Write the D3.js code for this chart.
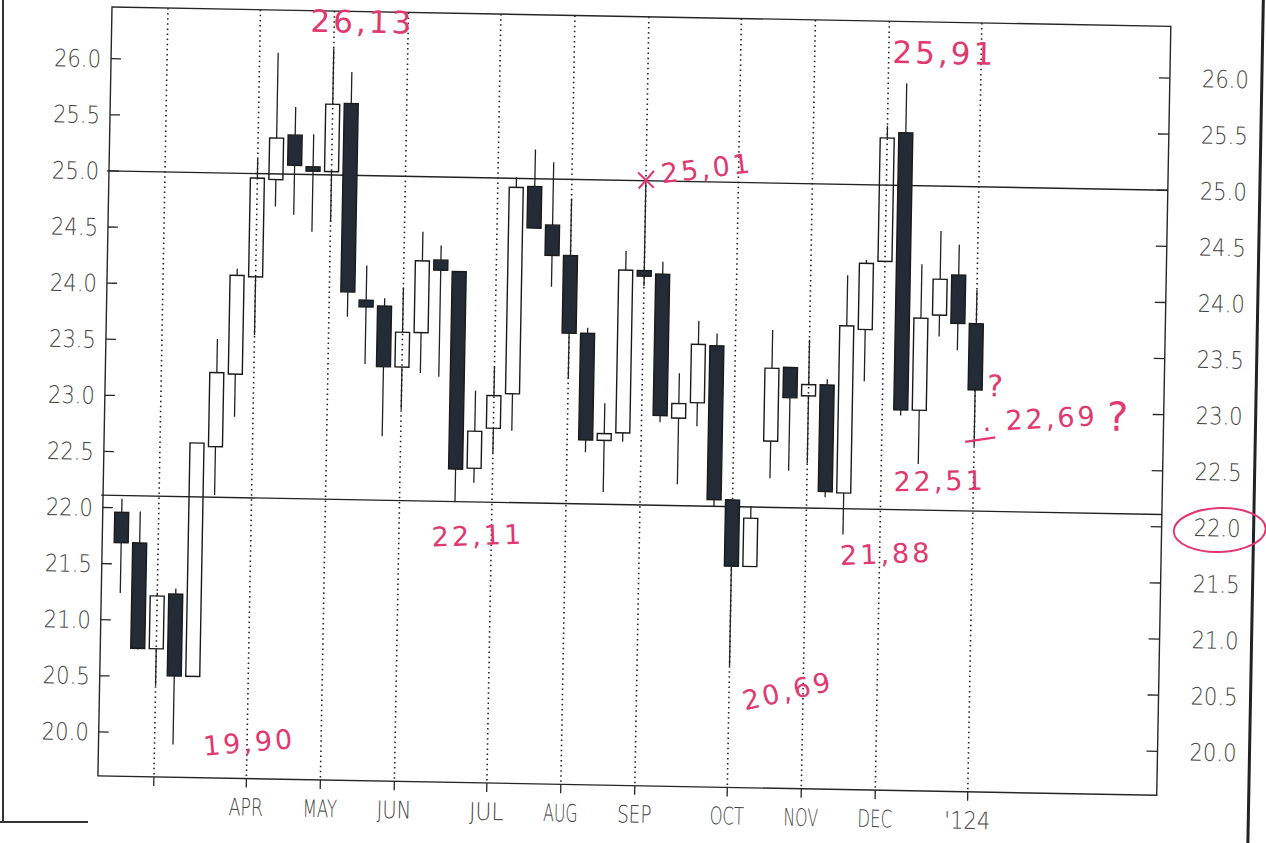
<!DOCTYPE html>
<html>
<head>
<meta charset="utf-8">
<script src="https://cdn.jsdelivr.net/npm/d3@7"></script>
<style>
  body { margin: 0; background: #fff; }
  svg { display: block; }
</style>
</head>
<body>
<svg id="chart"></svg>
<script>
// weekly OHLC
const open  = [21.96,21.69,20.75,21.24,20.51,22.56,23.21,24.08,24.95,25.35,25.07,25.03,25.64,23.89,23.84,23.30,23.61,24.26,24.16,22.41,22.77,23.08,24.93,24.59,24.32,23.63,22.68,22.75,24.20,24.17,22.89,23.03,23.54,22.17,21.58,22.70,23.36,23.11,23.21,22.25,23.71,24.32,25.47,23.00,23.85,24.21,23.78];
const high  = [22.08,21.97,21.25,21.29,22.59,23.52,24.15,25.13,26.08,25.60,25.36,26.13,25.92,24.20,23.91,24.01,24.51,24.39,24.16,23.10,23.32,25.01,25.26,25.15,24.83,23.68,23.01,24.37,25.01,24.28,23.29,23.76,23.65,22.17,22.12,23.69,23.36,23.61,23.26,24.19,24.33,25.53,25.91,24.30,24.60,24.48,24.08];
const low   = [21.24,20.74,20.42,19.90,20.51,22.13,22.83,23.56,24.71,24.64,24.49,24.58,23.74,23.32,22.68,22.92,23.25,23.22,22.11,22.28,22.55,22.75,24.56,24.04,23.22,22.57,22.22,22.67,24.06,22.85,22.30,22.82,22.11,20.69,21.58,22.37,22.44,22.51,22.21,21.88,23.25,24.32,22.95,22.52,23.66,23.54,22.69];
const close = [21.69,20.75,21.22,20.51,22.59,23.22,24.09,24.96,25.32,25.08,25.03,25.63,23.96,23.83,23.30,23.61,24.25,24.17,22.40,22.74,23.06,24.92,24.56,24.32,23.63,22.68,22.74,24.20,24.15,22.91,23.02,23.55,22.17,21.58,22.01,23.35,23.09,23.21,22.26,23.74,24.30,25.42,23.00,23.82,24.17,23.78,23.19];

// week index where each month starts
const monthWeek   = [2, 7, 11, 15, 20, 24, 28, 33, 37, 41, 46];
const monthLabels = ['', 'APR', 'MAY', 'JUN', 'JUL', 'AUG', 'SEP', 'OCT', 'NOV', 'DEC', "'124"];

const yTicks = d3.range(20, 26.001, 0.5);

// hand drawn support / resistance lines
const levels = [25.0, 22.11];

// handwritten notes: week index and price they point at
const notes = [
  {text: '26,13', week: 11, price: 26.13},
  {text: '25,91', week: 42, price: 25.91},
  {text: '25,01', week: 28, price: 25.01},
  {text: '22,11', week: 18, price: 22.11},
  {text: '19,90', week: 3,  price: 19.90},
  {text: '20,69', week: 33, price: 20.69},
  {text: '21,88', week: 39, price: 21.88},
  {text: '22,51', week: 43, price: 22.52},
  {text: '. 22,69', week: 46, price: 22.69}
];

class CandleChart {
  constructor(config) {
    this.config = {
      parent: config.parent,
      width: config.width || 1266,
      height: config.height || 843
    };
    this.init();
  }

  init() {
    let self = this;

    self.svg = d3.select(self.config.parent)
      .attr('width', self.config.width)
      .attr('height', self.config.height);

    // frame of the plot (the scan is turned about one degree)
    self.left = 112;
    self.right = 1171;
    self.top = 7;
    self.bottom = 776;

    // page edges on the scan
    self.svg.append('line')
      .attr('x1', 3).attr('x2', 3).attr('y1', 0).attr('y2', 822)
      .attr('stroke', '#333').attr('stroke-width', 2);
    self.svg.append('line')
      .attr('x1', 0).attr('x2', 88).attr('y1', 822).attr('y2', 822)
      .attr('stroke', '#333').attr('stroke-width', 2);

    self.chart = self.svg.append('g')
      .attr('transform', `rotate(1.05, ${self.left}, ${self.top})`);

    self.xscale = d3.scaleLinear()
      .domain([0, 46])
      .range([131, 982]);

    self.yscale = d3.scaleLinear()
      .domain([20, 26])
      .range([732, 58.7]);

    self.render();
  }

  render() {
    let self = this;
    const g = self.chart;
    const ink = '#262626';
    const labelFont = 'DejaVu Sans, Liberation Sans, sans-serif';

    g.append('line')
      .attr('x1', self.right + 92).attr('x2', self.right + 92)
      .attr('y1', -30).attr('y2', 880)
      .attr('stroke', '#222').attr('stroke-width', 3);

    // month grid lines
    g.selectAll('.grid')
      .data(monthWeek)
      .join('line')
      .attr('class', 'grid')
      .attr('x1', d => self.xscale(d)).attr('x2', d => self.xscale(d))
      .attr('y1', self.top).attr('y2', self.bottom)
      .attr('stroke', '#222')
      .attr('stroke-width', 1.6)
      .attr('stroke-dasharray', '1.5,3.6');

    g.selectAll('.mtick')
      .data(monthWeek)
      .join('line')
      .attr('class', 'mtick')
      .attr('x1', d => self.xscale(d)).attr('x2', d => self.xscale(d))
      .attr('y1', self.bottom).attr('y2', self.bottom + 9)
      .attr('stroke', ink).attr('stroke-width', 1.3);

    g.selectAll('.mlabel')
      .data(monthWeek)
      .join('text')
      .attr('class', 'mlabel')
      .attr('x', d => self.xscale(d))
      .attr('y', self.bottom + 37)
      .attr('text-anchor', 'middle')
      .attr('textLength', (d, i) => monthLabels[i].length * 11.5 || null)
      .attr('lengthAdjust', 'spacingAndGlyphs')
      .style('font-family', labelFont)
      .style('font-size', '24px')
      .style('font-weight', 200)
      .style('fill', '#444')
      .text((d, i) => monthLabels[i]);

    // frame
    g.append('rect')
      .attr('x', self.left).attr('y', self.top)
      .attr('width', self.right - self.left)
      .attr('height', self.bottom - self.top)
      .attr('fill', 'none')
      .attr('stroke', ink)
      .attr('stroke-width', 1.4);

    // y ticks both sides
    g.selectAll('.ltick')
      .data(yTicks)
      .join('line')
      .attr('class', 'ltick')
      .attr('x1', self.left).attr('x2', self.left + 10)
      .attr('y1', d => self.yscale(d)).attr('y2', d => self.yscale(d))
      .attr('stroke', ink).attr('stroke-width', 1.3);
    g.selectAll('.rtick')
      .data(yTicks)
      .join('line')
      .attr('class', 'rtick')
      .attr('x1', self.right - 11).attr('x2', self.right)
      .attr('y1', d => self.yscale(d)).attr('y2', d => self.yscale(d))
      .attr('stroke', ink).attr('stroke-width', 1.3);

    const fmt = d3.format('.1f');
    g.selectAll('.llabel')
      .data(yTicks)
      .join('text')
      .attr('class', 'llabel')
      .attr('x', self.left - 10)
      .attr('y', d => self.yscale(d))
      .attr('dy', '0.36em')
      .attr('text-anchor', 'end')
      .attr('textLength', 47)
      .attr('lengthAdjust', 'spacingAndGlyphs')
      .style('font-family', labelFont)
      .style('font-size', '24px')
      .style('font-weight', 200)
      .style('fill', '#444')
      .text(d => fmt(d));
    g.selectAll('.rlabel')
      .data(yTicks)
      .join('text')
      .attr('class', 'rlabel')
      .attr('x', self.right + 32)
      .attr('y', d => self.yscale(d))
      .attr('dy', '0.36em')
      .attr('textLength', 47)
      .attr('lengthAdjust', 'spacingAndGlyphs')
      .style('font-family', labelFont)
      .style('font-size', '24px')
      .style('font-weight', 200)
      .style('fill', '#444')
      .text(d => fmt(d));

    // ruled lines
    g.selectAll('.level')
      .data(levels)
      .join('line')
      .attr('class', 'level')
      .attr('x1', self.left - 2).attr('x2', self.right)
      .attr('y1', d => self.yscale(d)).attr('y2', d => self.yscale(d))
      .attr('stroke', '#222').attr('stroke-width', 1.4);

    // candles
    const weeks = d3.range(open.length);
    const bw = 14;

    g.selectAll('.wick-hi')
      .data(weeks)
      .join('line')
      .attr('class', 'wick-hi')
      .attr('x1', i => self.xscale(i)).attr('x2', i => self.xscale(i))
      .attr('y1', i => self.yscale(high[i]))
      .attr('y2', i => self.yscale(Math.max(open[i], close[i])))
      .attr('stroke', '#222').attr('stroke-width', 1.3);
    g.selectAll('.wick-lo')
      .data(weeks)
      .join('line')
      .attr('class', 'wick-lo')
      .attr('x1', i => self.xscale(i)).attr('x2', i => self.xscale(i))
      .attr('y1', i => self.yscale(Math.min(open[i], close[i])))
      .attr('y2', i => self.yscale(low[i]))
      .attr('stroke', '#222').attr('stroke-width', 1.3);

    g.selectAll('.body')
      .data(weeks)
      .join('rect')
      .attr('class', 'body')
      .attr('x', i => self.xscale(i) - bw / 2)
      .attr('width', bw)
      .attr('y', i => self.yscale(Math.max(open[i], close[i])))
      .attr('height', i => Math.max(4, Math.abs(self.yscale(open[i]) - self.yscale(close[i]))))
      .attr('fill', i => close[i] < open[i] ? '#222b36' : 'none')
      .attr('stroke', '#1a1a1a')
      .attr('stroke-width', 1.4);

    // handwritten notes in pink
    const pink = '#e0386f';
    const hand = 'DejaVu Sans, sans-serif';
    const offs = [[28, -16, 0], [37, -20, 0], [62, -3, -8], [24, 43, -3], [77, 6, -6],
                  [61, 33, -14], [44, 28, -3], [22, 26, -2], [66, -19, -4]];

    g.selectAll('.note')
      .data(notes)
      .join('text')
      .attr('class', 'note')
      .attr('transform', (d, i) => {
        const x = self.xscale(d.week) + offs[i][0];
        const y = self.yscale(d.price) + offs[i][1];
        return `translate(${x},${y}) rotate(${offs[i][2]})`;
      })
      .attr('text-anchor', 'middle')
      .style('font-family', hand)
      .style('font-size', (d, i) => i < 2 ? '31px' : '27px')
      .style('letter-spacing', '3px')
      .style('fill', pink)
      .text(d => d.text);

    // cross on the september high
    const sx = self.xscale(notes[2].week), sy = self.yscale(notes[2].price);
    g.append('path')
      .attr('d', `M${sx - 8},${sy - 7}L${sx + 8},${sy + 8}M${sx + 8},${sy - 9}L${sx - 7},${sy + 9}`)
      .attr('stroke', pink).attr('stroke-width', 2).attr('fill', 'none');

    // question marks and dash near the last low
    const qx = self.xscale(notes[8].week), qy = self.yscale(notes[8].price);
    g.append('text')
      .attr('x', qx + 20).attr('y', qy - 50)
      .attr('text-anchor', 'middle')
      .style('font-family', hand).style('font-size', '30px').style('fill', pink)
      .text('?');
    g.append('text')
      .attr('x', qx + 143).attr('y', qy - 18)
      .attr('text-anchor', 'middle')
      .style('font-family', hand).style('font-size', '40px').style('fill', pink)
      .text('?');
    g.append('line')
      .attr('x1', qx - 9).attr('x2', qx + 21)
      .attr('y1', qy - 4).attr('y2', qy - 9)
      .attr('stroke', pink).attr('stroke-width', 2.2);

    // circle round the 22.0 label on the right
    g.append('ellipse')
      .attr('cx', self.right + 58)
      .attr('cy', self.yscale(22) + 2)
      .attr('rx', 46).attr('ry', 22)
      .attr('transform', `rotate(-3, ${self.right + 58}, ${self.yscale(22)})`)
      .attr('fill', 'none')
      .attr('stroke', pink).attr('stroke-width', 2);
  }
}

const chart = new CandleChart({parent: '#chart', width: 1266, height: 843});
</script>
</body>
</html>
